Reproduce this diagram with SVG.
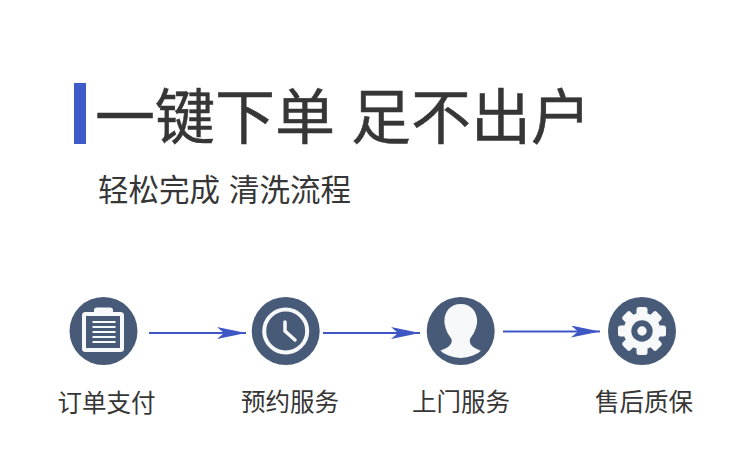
<svg xmlns="http://www.w3.org/2000/svg" width="750" height="465" viewBox="0 0 750 465">
<style>
text{font-family:"Noto Sans CJK SC","Noto Sans",sans-serif;fill:#363636}
.t{font-size:60px;stroke:#363636;stroke-width:0.500px}
.s{font-size:30.500px}
.l{font-size:24.500px;text-anchor:middle}
.c{fill:#475a78}
.w{fill:#f7f8f9}
.b{fill:none;stroke:#f7f8f9}
.r{fill:none;stroke:#475a78}
.a{stroke:#3f57c4;stroke-width:1.800;fill:none;marker-end:url(#h)}
</style>
<defs>
<marker id="h" markerUnits="userSpaceOnUse" markerWidth="30" markerHeight="14" refX="29" refY="6" orient="auto"><path d="M0 0L29 6L0 12L7 6Z" fill="#3f57c4"/></marker>
<clipPath id="pc"><circle cx="460.700" cy="326" r="32"/></clipPath>
<rect id="tooth" x="636.500" y="307" width="11" height="10" rx="2.500" fill="#f7f8f9"/>
</defs>
<rect width="750" height="465" fill="#fff"/>
<g id="header">
<rect x="74" y="83" width="12" height="61" fill="#3f5bc8"/>
<text class="t" x="95" y="139">一键下单</text>
<text class="t" x="351" y="139">足不出户</text>
<text class="s" x="98" y="201">轻松完成</text>
<text class="s" x="229" y="201">清洗流程</text>
</g>
<g id="connectors">
<path class="a" d="M149 333H246"/>
<path class="a" d="M323 333H420"/>
<path class="a" d="M503 331.500H600"/>
</g>
<g id="node-order">
<circle class="c" cx="103.500" cy="331" r="34"/>
<rect class="b" x="84" y="314" width="38" height="36" rx="1.500" stroke-width="4"/>
<path class="w" d="M94 314V310Q94 307.500 97 307.500H110Q113 307.500 113 310V314Z"/>
<path class="b" stroke-width="2" d="M92.500 322H115.500M92.500 327H115.500M92.500 332H115.500M92.500 337H115.500M92.500 342H115.500"/>
<text class="l" x="106.500" y="411.500">订单支付</text>
</g>
<g id="node-booking">
<circle class="c" cx="285.700" cy="331" r="34"/>
<circle class="b" cx="285.700" cy="331" r="21.500" stroke-width="4"/>
<path class="b" stroke-width="3.500" stroke-linecap="round" d="M285 322V331L295 340"/>
<text class="l" x="290" y="411">预约服务</text>
</g>
<g id="node-door">
<circle class="c" cx="460.700" cy="331" r="34"/>
<path class="w" clip-path="url(#pc)" d="M460.700 304C472 304 478 313 477 323C476 331 472 336 470 339C469 344 472 347 478 349.500C483 351.500 486 353 490 356V370H431V356C435 353 438 351.500 443 349.500C449 347 452.500 344 451.500 339C449.500 336 445.500 331 444.500 323C443.500 313 449.500 304 460.700 304Z"/>
<text class="l" x="461" y="411">上门服务</text>
</g>
<g id="node-warranty">
<circle class="c" cx="642" cy="331" r="34"/>
<circle class="w" cx="642" cy="331" r="18.500"/>
<use href="#tooth"/>
<use href="#tooth" transform="rotate(45 642 331)"/>
<use href="#tooth" transform="rotate(90 642 331)"/>
<use href="#tooth" transform="rotate(135 642 331)"/>
<use href="#tooth" transform="rotate(180 642 331)"/>
<use href="#tooth" transform="rotate(225 642 331)"/>
<use href="#tooth" transform="rotate(270 642 331)"/>
<use href="#tooth" transform="rotate(315 642 331)"/>
<circle class="r" cx="642" cy="331" r="7.700" stroke-width="6"/>
<text class="l" x="644" y="411">售后质保</text>
</g>
</svg>
